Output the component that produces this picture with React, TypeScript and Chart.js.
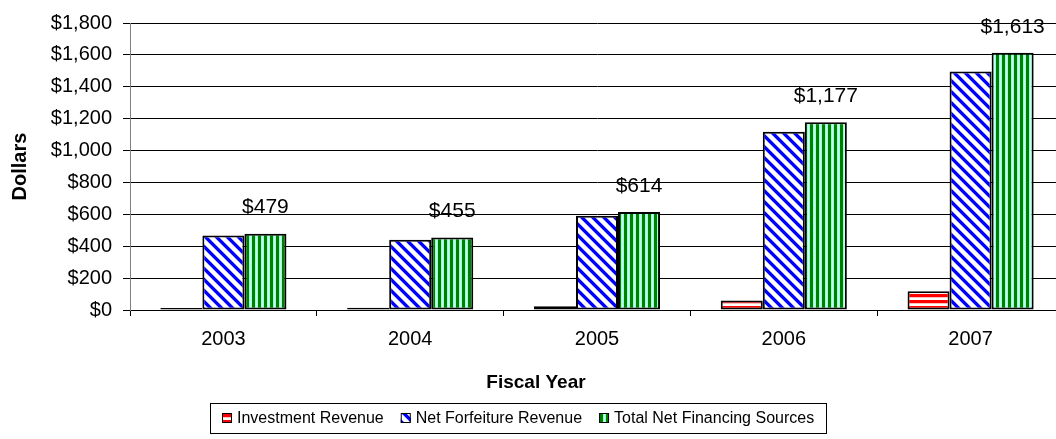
import React, { useEffect, useRef } from 'react';
import { Chart, registerables } from 'chart.js';

Chart.register(...registerables);

const categories = ['2003', '2004', '2005', '2006', '2007'];
const investmentRevenue = [12, 14, 23, 59, 117];
const netForfeitureRevenue = [467, 441, 591, 1118, 1496];
const totalNetFinancingSources = [479, 455, 614, 1177, 1613];
const seriesLabels = ['Investment Revenue', 'Net Forfeiture Revenue', 'Total Net Financing Sources'];
const yMin = 0;
const yMax = 1800;
const yStep = 200;
const yTitle = 'Dollars';
const xTitle = 'Fiscal Year';

const FONT = "'Liberation Sans', Arial, sans-serif";

function makeTile(w: number, h: number, paint: (ctx: CanvasRenderingContext2D) => void) {
  const c = document.createElement('canvas');
  c.width = w;
  c.height = h;
  const ctx = c.getContext('2d')!;
  paint(ctx);
  return ctx.createPattern(c, 'repeat')!;
}

function redStripes() {
  return makeTile(6, 6, (ctx) => {
    ctx.fillStyle = '#ffffff';
    ctx.fillRect(0, 0, 6, 6);
    ctx.fillStyle = '#ff0000';
    ctx.fillRect(0, 0, 6, 3);
    ctx.fillStyle = '#ffc0c0';
    ctx.fillRect(0, 3, 6, 1);
  });
}

function blueDiagonal() {
  const n = 11;
  return makeTile(n, n, (ctx) => {
    ctx.fillStyle = '#ffffff';
    ctx.fillRect(0, 0, n, n);
    for (let y = 0; y < n; y++) {
      for (let x = 0; x < n; x++) {
        const d = (((x - y) % n) + n) % n;
        if (d < 4) {
          ctx.fillStyle = '#0000ff';
          ctx.fillRect(x, y, 1, 1);
        } else if (d === 4 || d === n - 1) {
          ctx.fillStyle = '#a0a0ff';
          ctx.fillRect(x, y, 1, 1);
        }
      }
    }
  });
}

function greenVertical() {
  return makeTile(6, 6, (ctx) => {
    ctx.fillStyle = '#008000';
    ctx.fillRect(0, 0, 3, 6);
    ctx.fillStyle = '#99ffcc';
    ctx.fillRect(3, 0, 1, 6);
    ctx.fillStyle = '#ccffff';
    ctx.fillRect(4, 0, 1, 6);
    ctx.fillStyle = '#99ffcc';
    ctx.fillRect(5, 0, 1, 6);
  });
}

const fmt = (v: number) => '$' + v.toLocaleString('en-US');

const extrasPlugin = {
  id: 'extras',
  afterDatasetsDraw(chart: any) {
    const ctx = chart.ctx as CanvasRenderingContext2D;
    const meta = chart.getDatasetMeta(2);
    ctx.save();
    ctx.font = `21px ${FONT}`;
    ctx.fillStyle = '#000';
    ctx.textAlign = 'center';
    ctx.textBaseline = 'middle';
    meta.data.forEach((el: any, i: number) => {
      ctx.fillText(fmt(totalNetFinancingSources[i]), el.x, el.y - 26);
    });
    ctx.restore();
  },
  afterDraw(chart: any) {
    const ctx = chart.ctx as CanvasRenderingContext2D;
    ctx.save();
    // x axis title
    ctx.font = `bold 19px ${FONT}`;
    ctx.fillStyle = '#000';
    ctx.textAlign = 'center';
    ctx.textBaseline = 'middle';
    ctx.fillText(xTitle, 536, 383);

    // boxed legend
    ctx.font = `16px ${FONT}`;
    const items = chart.data.datasets.map((ds: any) => ({
      label: ds.label as string,
      fill: ds.backgroundColor,
      w: ctx.measureText(ds.label).width,
    }));
    const box = 10;
    const gapText = 5;
    const gapItem = 17;
    const padX = 12;
    const total =
      items.reduce((s: number, it: any) => s + box + gapText + it.w, 0) + gapItem * (items.length - 1);
    const boxW = Math.round(total + padX * 2);
    const left = 210;
    const top = 403;
    const h = 30;
    ctx.strokeStyle = '#000';
    ctx.lineWidth = 1;
    ctx.strokeRect(left + 0.5, top + 0.5, boxW, h);
    let x = left + padX;
    const cy = top + h / 2;
    ctx.textAlign = 'left';
    items.forEach((it: any) => {
      ctx.fillStyle = it.fill;
      ctx.fillRect(x, cy - box / 2, box, box);
      ctx.strokeStyle = '#000';
      ctx.strokeRect(x + 0.5, cy - box / 2 + 0.5, box - 1, box - 1);
      ctx.fillStyle = '#000';
      ctx.fillText(it.label, x + box + gapText, cy + 1);
      x += box + gapText + it.w + gapItem;
    });
    ctx.restore();
  },
};

export default function App() {
  const ref = useRef<HTMLCanvasElement | null>(null);

  useEffect(() => {
    if (!ref.current) return;
    const fills = [redStripes(), blueDiagonal(), greenVertical()];
    const values = [investmentRevenue, netForfeitureRevenue, totalNetFinancingSources];
    const chart = new Chart(ref.current, {
      type: 'bar',
      data: {
        labels: categories,
        datasets: values.map((v, i) => ({
          label: seriesLabels[i],
          data: v,
          backgroundColor: fills[i] as any,
          borderColor: '#000000',
          borderWidth: 2,
          borderSkipped: false,
          categoryPercentage: 0.675,
          barPercentage: 1.0,
        })),
      },
      options: {
        animation: false,
        responsive: false,
        events: [],
        layout: { padding: { top: 23, right: 6, bottom: 0, left: 0 } },
        plugins: {
          legend: { display: false },
          tooltip: { enabled: false },
          title: { display: false },
        },
        scales: {
          x: {
            type: 'category',
            offset: true,
            grid: {
              display: true,
              offset: true,
              drawOnChartArea: false,
              drawTicks: true,
              tickLength: 6,
              color: '#000000',
            },
            border: { display: true, color: '#000000', width: 1 },
            ticks: {
              color: '#000000',
              font: { family: FONT, size: 20 },
              padding: 11,
              maxRotation: 0,
            },
            afterFit: (scale: any) => {
              scale.height = 129;
            },
          },
          y: {
            min: yMin,
            max: yMax,
            ticks: {
              stepSize: yStep,
              color: '#000000',
              font: { family: FONT, size: 20 },
              padding: 11,
              callback: (v: any) => fmt(Number(v)),
            },
            grid: {
              color: '#000000',
              lineWidth: 1,
              drawTicks: true,
              tickLength: 7,
            },
            border: { display: true, color: '#808080', width: 1 },
            title: {
              display: true,
              text: yTitle,
              color: '#000000',
              font: { family: FONT, size: 20, weight: 'bold' },
              padding: { top: 8, bottom: 0 },
            },
            afterFit: (scale: any) => {
              scale.width = 130;
            },
          },
        },
      },
      plugins: [extrasPlugin],
    });
    return () => chart.destroy();
  }, []);

  return (
    <div
      style={{
        position: 'fixed',
        left: 0,
        top: 0,
        width: 1056,
        height: 439,
        overflow: 'hidden',
        background: '#ffffff',
      }}
    >
      <canvas ref={ref} width={1070} height={439} style={{ display: 'block', width: 1070, height: 439 }} />
    </div>
  );
}
